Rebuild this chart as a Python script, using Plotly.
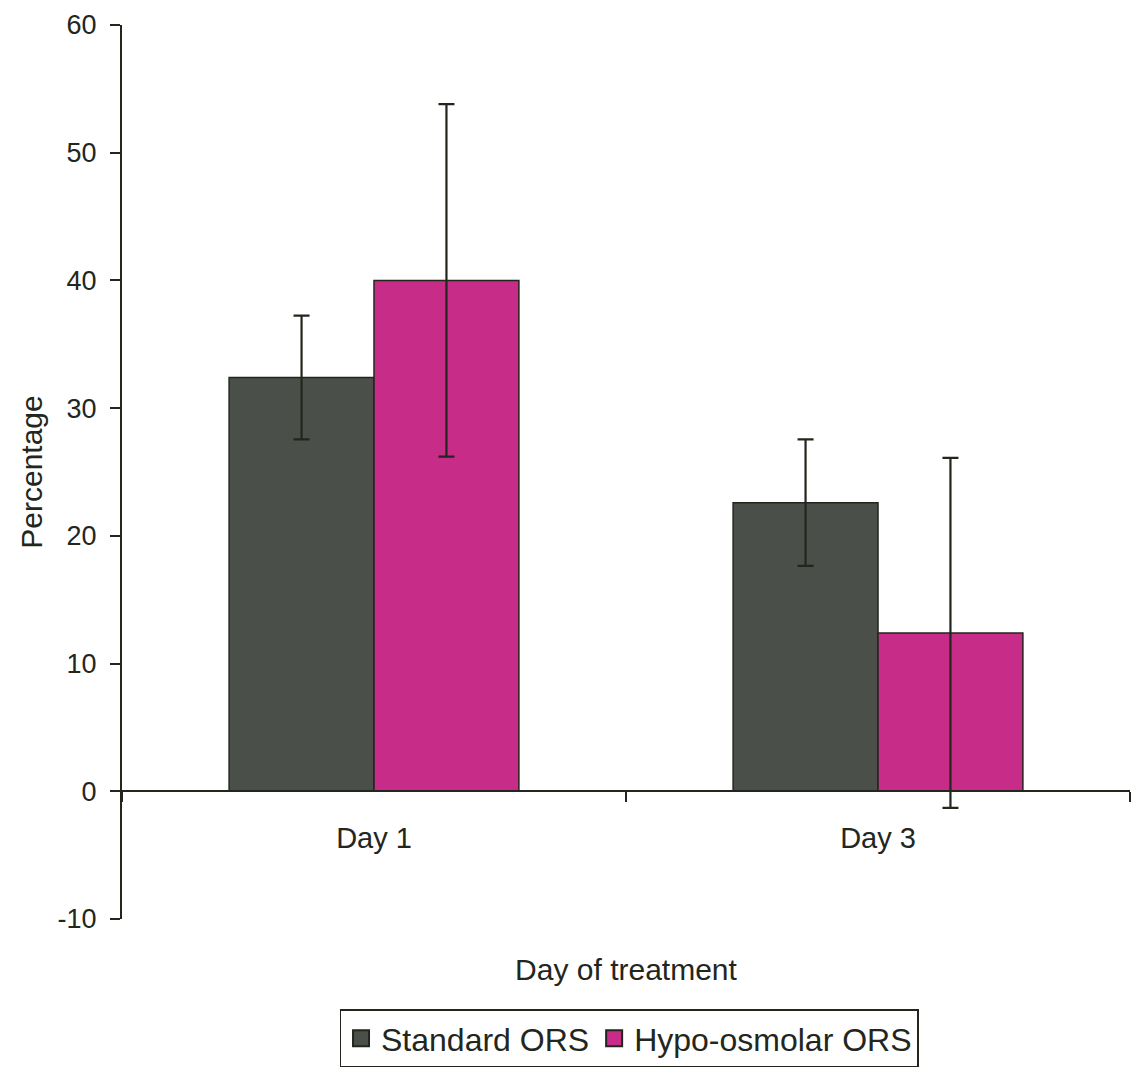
import plotly.graph_objects as go

# Percentage by treatment day for the two rehydration solutions
days = ["Day 1", "Day 3"]
standard_ors = [32.4, 22.6]
standard_err = [4.85, 4.95]
hypo_ors = [40.0, 12.4]
hypo_err = [13.8, 13.7]

y_ticks = [-10, 0, 10, 20, 30, 40, 50, 60]
y_tick_text = ["-10", "0", "10", "20", "30", "40", "50", "60"]

FONT = "Liberation Sans, Arial, sans-serif"
INK = "#23261c"
GREY = "#4a4f49"
MAGENTA = "#c62c88"

fig = go.Figure()
fig.add_trace(go.Bar(
    name="Standard ORS", x=days, y=standard_ors, showlegend=False,
    marker=dict(color=GREY, line=dict(color=INK, width=1.5)),
    error_y=dict(type="data", array=standard_err, color=INK, thickness=2.2, width=8),
))
fig.add_trace(go.Bar(
    name="Hypo-osmolar ORS", x=days, y=hypo_ors, showlegend=False,
    marker=dict(color=MAGENTA, line=dict(color=INK, width=1.5)),
    error_y=dict(type="data", array=hypo_err, color=INK, thickness=2.2, width=8),
))

# Legend keys: larger outlined squares than the default bar swatch
for name, colour in [("Standard ORS", GREY), ("Hypo-osmolar ORS", MAGENTA)]:
    fig.add_trace(go.Scatter(
        name=name, x=[None], y=[None], mode="markers",
        marker=dict(symbol="square", size=19, color=colour, line=dict(color=INK, width=2)),
    ))

fig.update_layout(
    width=1138, height=1070,
    margin=dict(l=122, r=8, t=25, b=151, autoexpand=False),
    paper_bgcolor="white", plot_bgcolor="white",
    barmode="group", bargap=0.425, bargroupgap=0,
    font=dict(family=FONT, size=30, color=INK),
    legend=dict(
        orientation="h", x=0.503, xanchor="center", y=-0.166, yanchor="bottom",
        bordercolor=INK, borderwidth=1.5, font=dict(size=32),
        itemwidth=30, tracegroupgap=0,
    ),
)

fig.update_xaxes(
    anchor="free", position=10 / 70, automargin=False,
    showline=True, linecolor=INK, linewidth=2,
    ticks="outside", tickson="boundaries", ticklen=10, tickwidth=2, tickcolor=INK,
    ticklabelstandoff=21, tickfont=dict(size=29),
    showgrid=False, zeroline=False,
    title=dict(text="Day of treatment", font=dict(size=30), standoff=105),
)
fig.update_yaxes(
    range=[-10, 60], tickvals=y_ticks, ticktext=y_tick_text, automargin=False,
    showline=True, linecolor=INK, linewidth=2,
    ticks="outside", ticklen=10, tickwidth=2, tickcolor=INK,
    ticklabelstandoff=8, tickfont=dict(size=27),
    showgrid=False, zeroline=False,
    title=dict(text="Percentage", font=dict(size=30), standoff=6),
)

fig.write_html("out.html")
